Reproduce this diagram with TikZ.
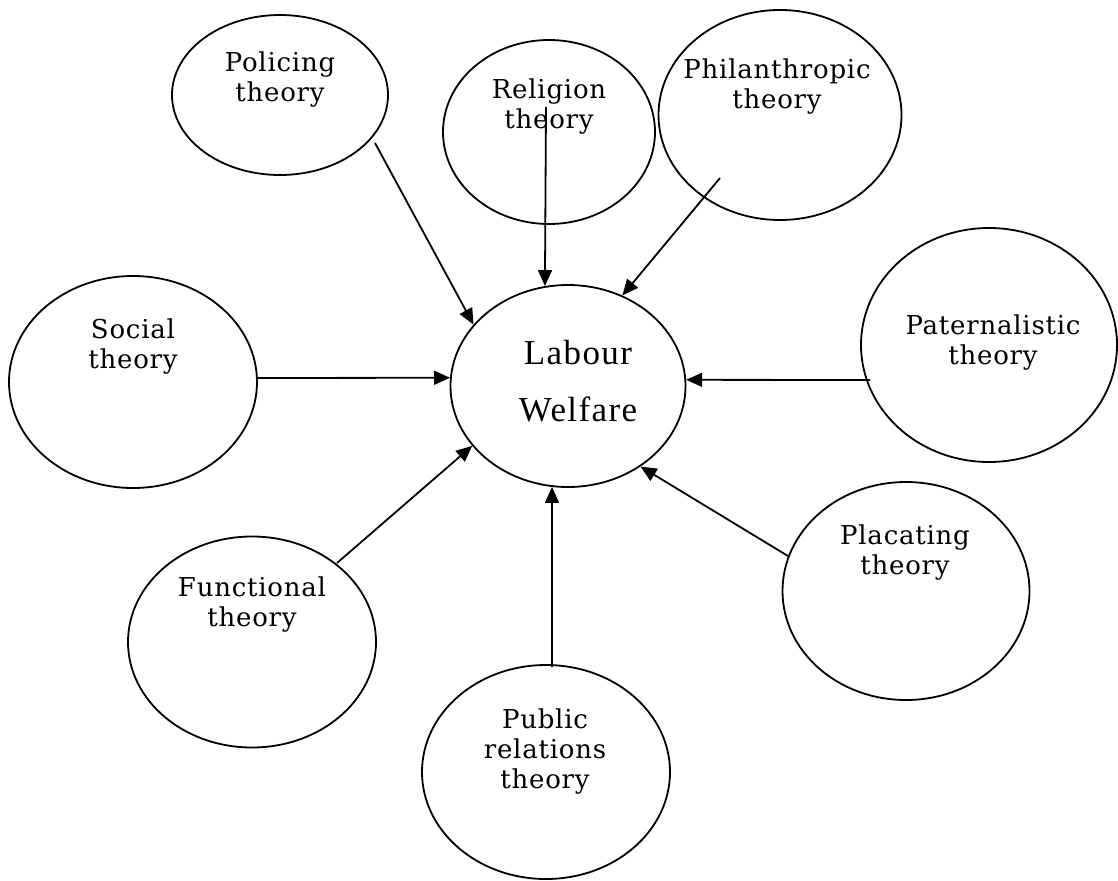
\documentclass[tikz,border=0pt]{standalone}
\usepackage{fontspec}
\usepackage{tikz}
\usetikzlibrary{arrows.meta,shapes.geometric}
\newfontfamily\thfont[LetterSpace=3.0]{DejaVu Serif}
\newfontfamily\lwfont[LetterSpace=4.0]{Liberation Serif}

\begin{document}
\begin{tikzpicture}[x=1pt,y=-1pt,
  oval/.style={draw,ellipse,line width=1.8pt,inner sep=0pt},
  lbl/.style={align=center,font=\thfont\fontsize{26}{30}\selectfont},
  arr/.style={line width=1.8pt,-{Triangle[length=16pt,width=14pt]}}]
       \useasboundingbox (0,0) rectangle (1118,880);
       \node[oval,minimum width=216pt,minimum height=160pt] (pol) at (280,95) {};
       \node[oval,minimum width=212pt,minimum height=184pt] (rel) at (549,132) {};
       \node[oval,minimum width=243pt,minimum height=210pt] (phi) at (780,115) {};
       \node[oval,minimum width=248pt,minimum height=212pt] (soc) at (133,382) {};
       \node[oval,minimum width=235pt,minimum height=202pt] (lw)  at (568,386) {};
       \node[oval,minimum width=256pt,minimum height=234pt] (pat) at (989,345) {};
       \node[oval,minimum width=247pt,minimum height=218pt] (pla) at (906,591) {};
       \node[oval,minimum width=248pt,minimum height=211pt] (fun) at (252,642) {};
       \node[oval,minimum width=248pt,minimum height=214pt] (pub) at (546,772) {};
       \node[lbl] (polL) at (280,80)  {Policing\\theory};
       \node[lbl] (relL) at (549,107) {Religion\\theory};
       \node[lbl] (phiL) at (777,87)  {Philanthropic\\theory};
       \node[lbl] (socL) at (133,347) {Social\\theory};
       \node[align=center,font=\lwfont\fontsize{35}{57}\selectfont] (lwL) at (578,381) {Labour\\Welfare};
       \node[lbl] (patL) at (993,343) {Paternalistic\\theory};
       \node[lbl] (plaL) at (905,553) {Placating\\theory};
       \node[lbl] (funL) at (252,605) {Functional\\theory};
       \node[lbl] (pubL) at (545,752) {Public\\relations\\theory};
       \coordinate (polT) at ([shift={(95,48)}]pol.center);
       \coordinate (relT) at ([shift={(-3,-25)}]rel.center);
       \coordinate (phiT) at ([shift={(-60,63)}]phi.center);
       \coordinate (socT) at ([shift={(124,-4)}]soc.center);
       \coordinate (patT) at ([shift={(-119,35)}]pat.center);
       \coordinate (plaT) at ([shift={(-118,-35)}]pla.center);
       \coordinate (funT) at ([shift={(85,-79)}]fun.center);
       \coordinate (pubT) at ([shift={(6,-105)}]pub.center);
       \draw[arr] (polT) -- (lw.147);
       \draw[arr] (relT) -- (lw.103);
       \draw[arr] (phiT) -- (lw.59);
       \draw[arr] (socT) -- (lw.176);
       \draw[arr] (patT) -- (lw.3);
       \draw[arr] (plaT) -- (lw.-48);
       \draw[arr] (funT) -- (lw.212);
       \draw[arr] (pubT) -- (lw.261);
      \end{tikzpicture}
\end{document}
